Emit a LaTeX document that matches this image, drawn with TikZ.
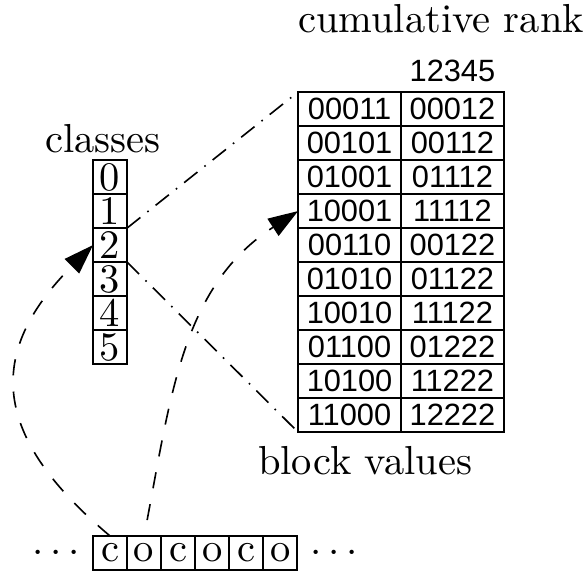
\documentclass[tikz,border=0pt]{standalone}
\usepackage{fontspec}
\usepackage{tikz}
\usetikzlibrary{arrows.meta,positioning}
\newfontfamily\digitfont{Liberation Sans}

\begin{document}
\begin{tikzpicture}
          [node distance=0pt,thin]
          \tikzstyle{cell}=[draw,inner sep=0pt,outer sep=0pt,minimum width=8.4pt,minimum height=8.4pt]
          \tikzstyle{blk}=[cell,minimum width=25.4pt,font=\digitfont\fontsize{7.6}{9}\selectfont]
          \tikzstyle{lbl}=[inner sep=0pt,anchor=base]
          \tikzstyle{link}=[dash pattern=on 4.2pt off 2.2pt on \pgflinewidth off 2.2pt]
          \tikzstyle{jump}=[dash pattern=on 4pt off 4pt,-{Triangle[length=7.4pt,width=5pt]}]

          \useasboundingbox (0,0) rectangle (5.102,4.946);

          % classes column
          \node[cell] (k0) at (0.955,3.410) {0};
          \foreach \i [remember=\i as \j (initially 0)] in {1,...,5}
            \node[cell,below=of k\j] (k\i) {\i};
          \node[lbl] at (0.894,3.627) {classes};

          % block values and their cumulative ranks
          \foreach \b/\r [count=\i] in {00011/00012,00101/00112,01001/01112,10001/11112,00110/00122,
                                        01010/01122,10010/11122,01100/01222,10100/11222,11000/12222}
            {\node[blk] (b\i) at (3.033,{4.2956-0.2952*\i}) {\b};
             \node[blk,right=of b\i] (r\i) {\r};}
          \node[inner sep=0pt,above=2.2pt of r1,font=\digitfont\fontsize{7.6}{9}\selectfont] (rk) {12345};
          \node[lbl] at (3.827,4.668) {cumulative rank};
          \node[lbl] at (3.167,0.833) {block values};

          % the sequence
          \foreach \t [count=\i] in {c,o,c,o,c,o}
            \node[cell] (s\i) at ({0.6598+0.2952*\i},0.1476) {\t};
          \node[inner sep=0pt,left=3.1pt of s1] (dl) {$\cdots$};
          \node[inner sep=0pt,right=3.1pt of s6] (dr) {$\cdots$};

          \draw[link] (k1.south east) -- (b1.north west);
          \draw[link] (k2.south east) -- (b10.south west);
          \draw[jump] (s1.north) to[out=140,in=225,looseness=1.35] (k2.west);
          \draw[jump,dash phase=4pt] (s2.north) to[out=79,in=213] (b4.west);
\end{tikzpicture}
\end{document}
